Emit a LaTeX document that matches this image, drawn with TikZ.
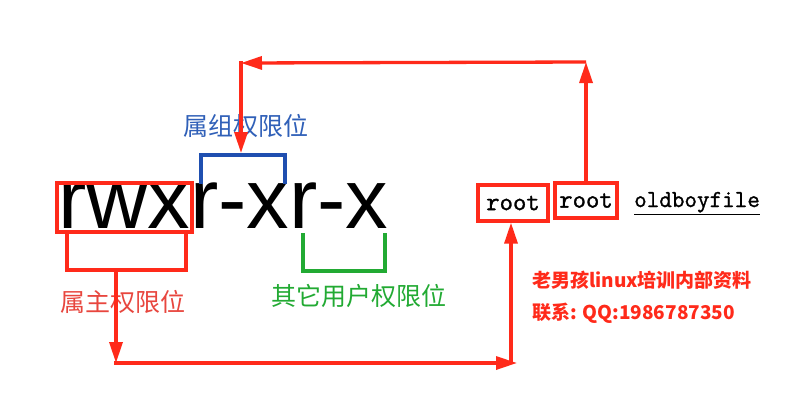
\documentclass[tikz,border=0pt]{standalone}
\usepackage{fontspec}
\setmainfont{Liberation Sans}
\newfontfamily\cjk{Noto Sans CJK SC}
\newfontfamily\monof[FakeBold=1.2]{Latin Modern Mono}
\usetikzlibrary{arrows.meta}
\definecolor{myred}{HTML}{FF2A1A}
\definecolor{lblred}{HTML}{E8463E}
\definecolor{myblue}{HTML}{1F4FB0}
\definecolor{lblblue}{HTML}{3060B8}
\definecolor{mygreen}{HTML}{22AA33}
\tikzset{
  perm/.style={anchor=base west, inner sep=0pt, font=\fontsize{85}{85}\selectfont},
  rootbox/.style={draw=myred, line width=3.3pt, inner sep=0pt, font=\monof\fontsize{26}{26}\selectfont},
  arr/.style={draw=myred, line width=3.3pt, -{Triangle[length=21pt,width=13pt]}},
  redline/.style={draw=myred, line width=3.3pt},
  lbl/.style={font=\cjk\fontsize{25}{25}\selectfont, inner sep=0pt},
  wmark/.style={font=\cjk\bfseries\fontsize{19}{19}\selectfont, text=myred, anchor=west, inner sep=0pt}
}
\begin{document}
\begin{tikzpicture}[x=1pt,y=-1pt]
\useasboundingbox[fill=white] (0,0) rectangle (794,402);
% permission text
\node[perm] (g1) at (58,228) {rwx};
\node[perm] (g2) at (189.8,228) {r-x};
\node[perm] (g3) at (289,228) {r-x};
% red box around rwx and U below
\draw[redline] (57,183) rectangle (192,232);
\draw[redline] (67,232) -- (67,270) -- (186,270) -- (186,232);
% blue bracket
\draw[draw=myblue, line width=4pt] (201,184) -- (201,155) -- (285,155) -- (285,184);
% green bracket
\draw[draw=mygreen, line width=4pt] (303,233) -- (303,271) -- (385,271) -- (385,233);
% labels
\node[lbl, text=lblblue] (lg) at (246,126) {属组权限位};
\node[lbl, text=lblred] (lo) at (123,302) {属主权限位};
\node[lbl, text=mygreen] (lt) at (359,296) {其它用户权限位};
% root boxes
\node[rootbox, minimum width=70pt, minimum height=36pt] (r1) at (513,203) {root};
\node[rootbox, minimum width=62pt, minimum height=35pt] (r2) at (586,200.5) {root};
\node[anchor=base west, inner sep=0pt, font=\monof\fontsize{24.4}{24.4}\selectfont] (fn) at (634,207) {\underline{oldboyfile}};
% watermark
\node[wmark] (m1) at (532,280) {老男孩linux培训内部资料};
\node[wmark] (m2) at (532,313) {联系: QQ:1986787350};
% top arrows
\coordinate (c1) at (586,62);
\coordinate (c2) at (241,63);
\coordinate (c3) at (241,153);
\draw[arr] (r2.north) -- (c1);
\draw[arr] (c1) -- (c2);
\draw[arr, shorten <=-1.6pt] (c2) -- (c3);
% bottom arrows
\coordinate (d0) at (116,270);
\coordinate (d1) at (116,363);
\coordinate (d2) at (517,363);
\coordinate (d3) at (511,363);
\draw[arr] (d0) -- (d1);
\draw[arr, shorten <=-1.6pt] (d1) -- (d2);
\draw[arr] (d3) -- (d3 |- r1.south);
\end{tikzpicture}
\end{document}
